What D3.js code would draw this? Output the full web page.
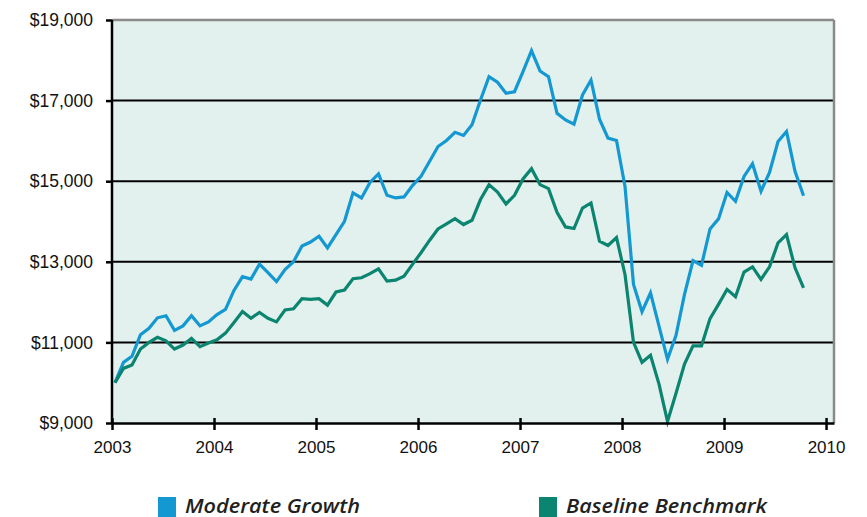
<!DOCTYPE html>
<html>
<head>
<meta charset="utf-8">
<script src="https://cdn.jsdelivr.net/npm/d3@7"></script>
<style>
  body { margin: 0; background: #fff; }
  .tick text { font-family: "Liberation Sans", Arial, sans-serif; }
</style>
</head>
<body>
<div id="chart"></div>
<script>
// monthly values, Jan 2003 .. Oct 2009
const moderateGrowth = [
  10000, 10505, 10655, 11190, 11350, 11610, 11660, 11300, 11410, 11660, 11410, 11510,
  11690, 11820, 12290, 12630, 12570, 12940, 12730, 12510, 12810, 13000, 13390, 13490,
  13635, 13345, 13675, 14005, 14710, 14585, 14970, 15180, 14650, 14585, 14610, 14890,
  15120, 15490, 15860, 16010, 16215, 16135, 16400, 17015, 17595, 17455, 17180, 17220,
  17720, 18240, 17735, 17595, 16685, 16520, 16415, 17140, 17510, 16540, 16070, 16010,
  14870, 12440, 11760, 12230, 11405, 10580, 11175, 12190, 13030, 12915, 13815, 14065,
  14720, 14500, 15120, 15435, 14750, 15220, 15985, 16235, 15245, 14640
];
const baselineBenchmark = [
  10000, 10355, 10440, 10835, 11000, 11125, 11040, 10835, 10935, 11100, 10895, 10985,
  11065, 11230, 11495, 11765, 11600, 11745, 11600, 11510, 11805, 11835, 12085, 12070,
  12085, 11925, 12250, 12300, 12580, 12605, 12705, 12825, 12520, 12545, 12645, 12935,
  13225, 13530, 13815, 13940, 14070, 13925, 14030, 14545, 14915, 14730, 14435, 14650,
  15055, 15310, 14915, 14815, 14230, 13865, 13825, 14335, 14460, 13510, 13405, 13600,
  12685, 11000, 10505, 10680, 9965, 9040, 9740, 10460, 10915, 10915, 11590, 11945,
  12315, 12135, 12745, 12875, 12565, 12875, 13470, 13675, 12850, 12355
];
const months = d3.range(moderateGrowth.length).map(i => 2003 + (i + 0.35) / 12);
const yearTicks = [2003, 2004, 2005, 2006, 2007, 2008, 2009, 2010];
const valueTicks = [9000, 11000, 13000, 15000, 17000, 19000];
const seriesNames = ["Moderate Growth", "Baseline Benchmark"];
const seriesColors = ["#1398d2", "#0b8570"];

const W = 867, H = 517;
const margin = { top: 20, right: 33, bottom: 94, left: 112 };
const width = W - margin.left - margin.right,
      height = H - margin.top - margin.bottom;

const svg = d3.select("#chart").append("svg")
    .attr("width", W).attr("height", H);
const g = svg.append("g")
    .attr("transform", "translate(" + margin.left + "," + margin.top + ")");

const x = d3.scaleLinear().domain([2003, 2010.078]).range([0, width]);
const y = d3.scaleLinear().domain([9000, 19000]).range([height, 0]);

// plot background
g.append("rect")
    .attr("width", width).attr("height", height)
    .attr("fill", "#e3f1ee");

// horizontal grid
g.selectAll(".grid")
  .data(valueTicks.filter(v => v > 9000 && v < 19000))
  .enter().append("line")
    .attr("x1", 0).attr("x2", width)
    .attr("y1", d => y(d)).attr("y2", d => y(d))
    .attr("stroke", "#000").attr("stroke-width", 2);

// top and right frame (grey)
g.append("line").attr("x1", 0).attr("x2", width)
    .attr("y1", y(19000)).attr("y2", y(19000))
    .attr("stroke", "#8a8a8a").attr("stroke-width", 2.5);
g.append("line").attr("x1", width).attr("x2", width)
    .attr("y1", 0).attr("y2", height)
    .attr("stroke", "#8a8a8a").attr("stroke-width", 2.5);

// lines
const line = d3.line()
    .x((d, i) => x(months[i]))
    .y(d => y(d));
[moderateGrowth, baselineBenchmark].forEach((s, k) => {
  g.append("path")
      .datum(s)
      .attr("fill", "none")
      .attr("stroke", seriesColors[k])
      .attr("stroke-width", 3.2)
      .attr("stroke-linejoin", "miter")
      .attr("d", line);
});

// y axis
const yAxis = g.append("g")
    .call(d3.axisLeft(y).tickValues(valueTicks).tickSize(6).tickPadding(13)
      .tickFormat(d => "$" + d3.format(",")(d)));
yAxis.select(".domain").attr("stroke-width", 2.5).attr("d", "M0," + (height + 1) + "V0");
yAxis.selectAll(".tick line").attr("stroke-width", 2.5);
yAxis.selectAll(".tick text").attr("font-size", 17.5).attr("fill", "#111");

// x axis
const xAxis = g.append("g")
    .attr("transform", "translate(0," + height + ")")
    .call(d3.axisBottom(x).tickValues(yearTicks).tickFormat(d3.format("d"))
      .tickSizeInner(7).tickSizeOuter(0).tickPadding(11));
xAxis.select(".domain").attr("stroke-width", 2.5);
xAxis.selectAll(".tick line").attr("stroke-width", 2.5).attr("y1", -5);
xAxis.selectAll(".tick text").attr("font-size", 17).attr("fill", "#111");

// legend
const legendX = [158, 539];
const legend = svg.selectAll(".legend")
  .data(seriesNames)
  .enter().append("g")
    .attr("transform", (d, i) => "translate(" + legendX[i] + ",497)");
legend.append("rect")
    .attr("width", 18).attr("height", 20)
    .attr("fill", (d, i) => seriesColors[i]);
legend.append("text")
    .attr("x", 27).attr("y", 15.5)
    .attr("font-family", "'Open Sans', sans-serif")
    .attr("font-style", "italic").attr("font-weight", 600)
    .attr("font-size", 20)
    .attr("fill", "#231f20")
    .attr("textLength", (d, i) => [175, 201][i])
    .attr("lengthAdjust", "spacingAndGlyphs")
    .text(d => d);
</script>
</body>
</html>
